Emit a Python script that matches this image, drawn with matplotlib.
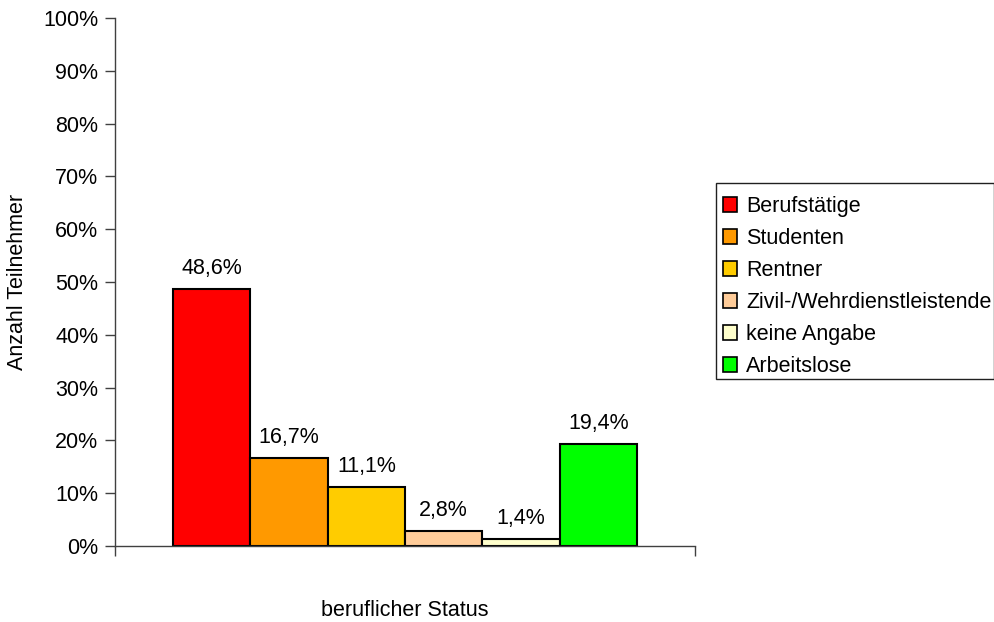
import matplotlib.pyplot as plt
from matplotlib.patches import Patch, Rectangle
import numpy as np

# --- Data ---
categories = ["Berufstätige", "Studenten", "Rentner", "Zivil-/Wehrdienstleistende",
              "keine Angabe", "Arbeitslose"]
values = [48.6, 16.7, 11.1, 2.8, 1.4, 19.4]
colors = ["#FF0000", "#FF9900", "#FFCC00", "#FFCC99", "#FFFFCC", "#00FF00"]
yticks = [0, 10, 20, 30, 40, 50, 60, 70, 80, 90, 100]

plt.rcParams['font.family'] = ['Liberation Sans', 'DejaVu Sans']
plt.rcParams['font.size'] = 15.5

W, H = 995, 622
fig = plt.figure(figsize=(W / 100, H / 100), dpi=100)
ax = fig.add_axes([115 / W, 1 - 546 / H, 580 / W, (546 - 18) / H])

# one category, six series side by side (Excel style, gap width ~150%)
n = len(values)
bar_w = 1.0 / (n + 1.5)
x = (np.arange(n) - (n - 1) / 2) * bar_w
ax.bar(x, values, width=bar_w, color=colors, edgecolor="black", linewidth=1.5, zorder=2)

for xi, v in zip(x, values):
    ax.text(xi, v + 1.9, f"{v:.1f}%".replace(".", ","), ha="center", va="bottom")

ax.set_xlim(-0.5, 0.5)
ax.set_ylim(0, 100)
ax.set_yticks(yticks)
ax.set_yticklabels([f"{t}%" for t in yticks])
ax.set_xticks([-0.5, 0.5])
ax.set_xticklabels(["", ""])
ax.tick_params(axis="both", direction="out", length=7, width=1, color="#404040", pad=5)

for s in ["top", "right"]:
    ax.spines[s].set_visible(False)
for s in ["left", "bottom"]:
    ax.spines[s].set_color("#404040")
    ax.spines[s].set_linewidth(1)

fig.text(405 / W, 1 - 611 / H, "beruflicher Status", ha="center", va="center")
fig.text(18 / W, 1 - 282 / H, "Anzahl Teilnehmer", ha="center", va="center", rotation=90)

# legend box drawn separately so its size matches the original
fig.patches.append(Rectangle((716 / W, 1 - 379 / H), (994 - 716) / W, (379 - 183) / H,
                             transform=fig.transFigure, facecolor="white",
                             edgecolor="#202020", linewidth=1, zorder=1))
handles = [Patch(facecolor=c, edgecolor="black", linewidth=1.2) for c in colors]
leg = fig.legend(handles, categories, loc="upper left",
                 bbox_to_anchor=(723 / W, 1 - 196 / H), frameon=False,
                 handlelength=0.65, handleheight=0.65,
                 handletextpad=0.42, labelspacing=0.51, borderpad=0,
                 borderaxespad=0)
leg.set_zorder(2)

fig.savefig("out.png", dpi=100)
